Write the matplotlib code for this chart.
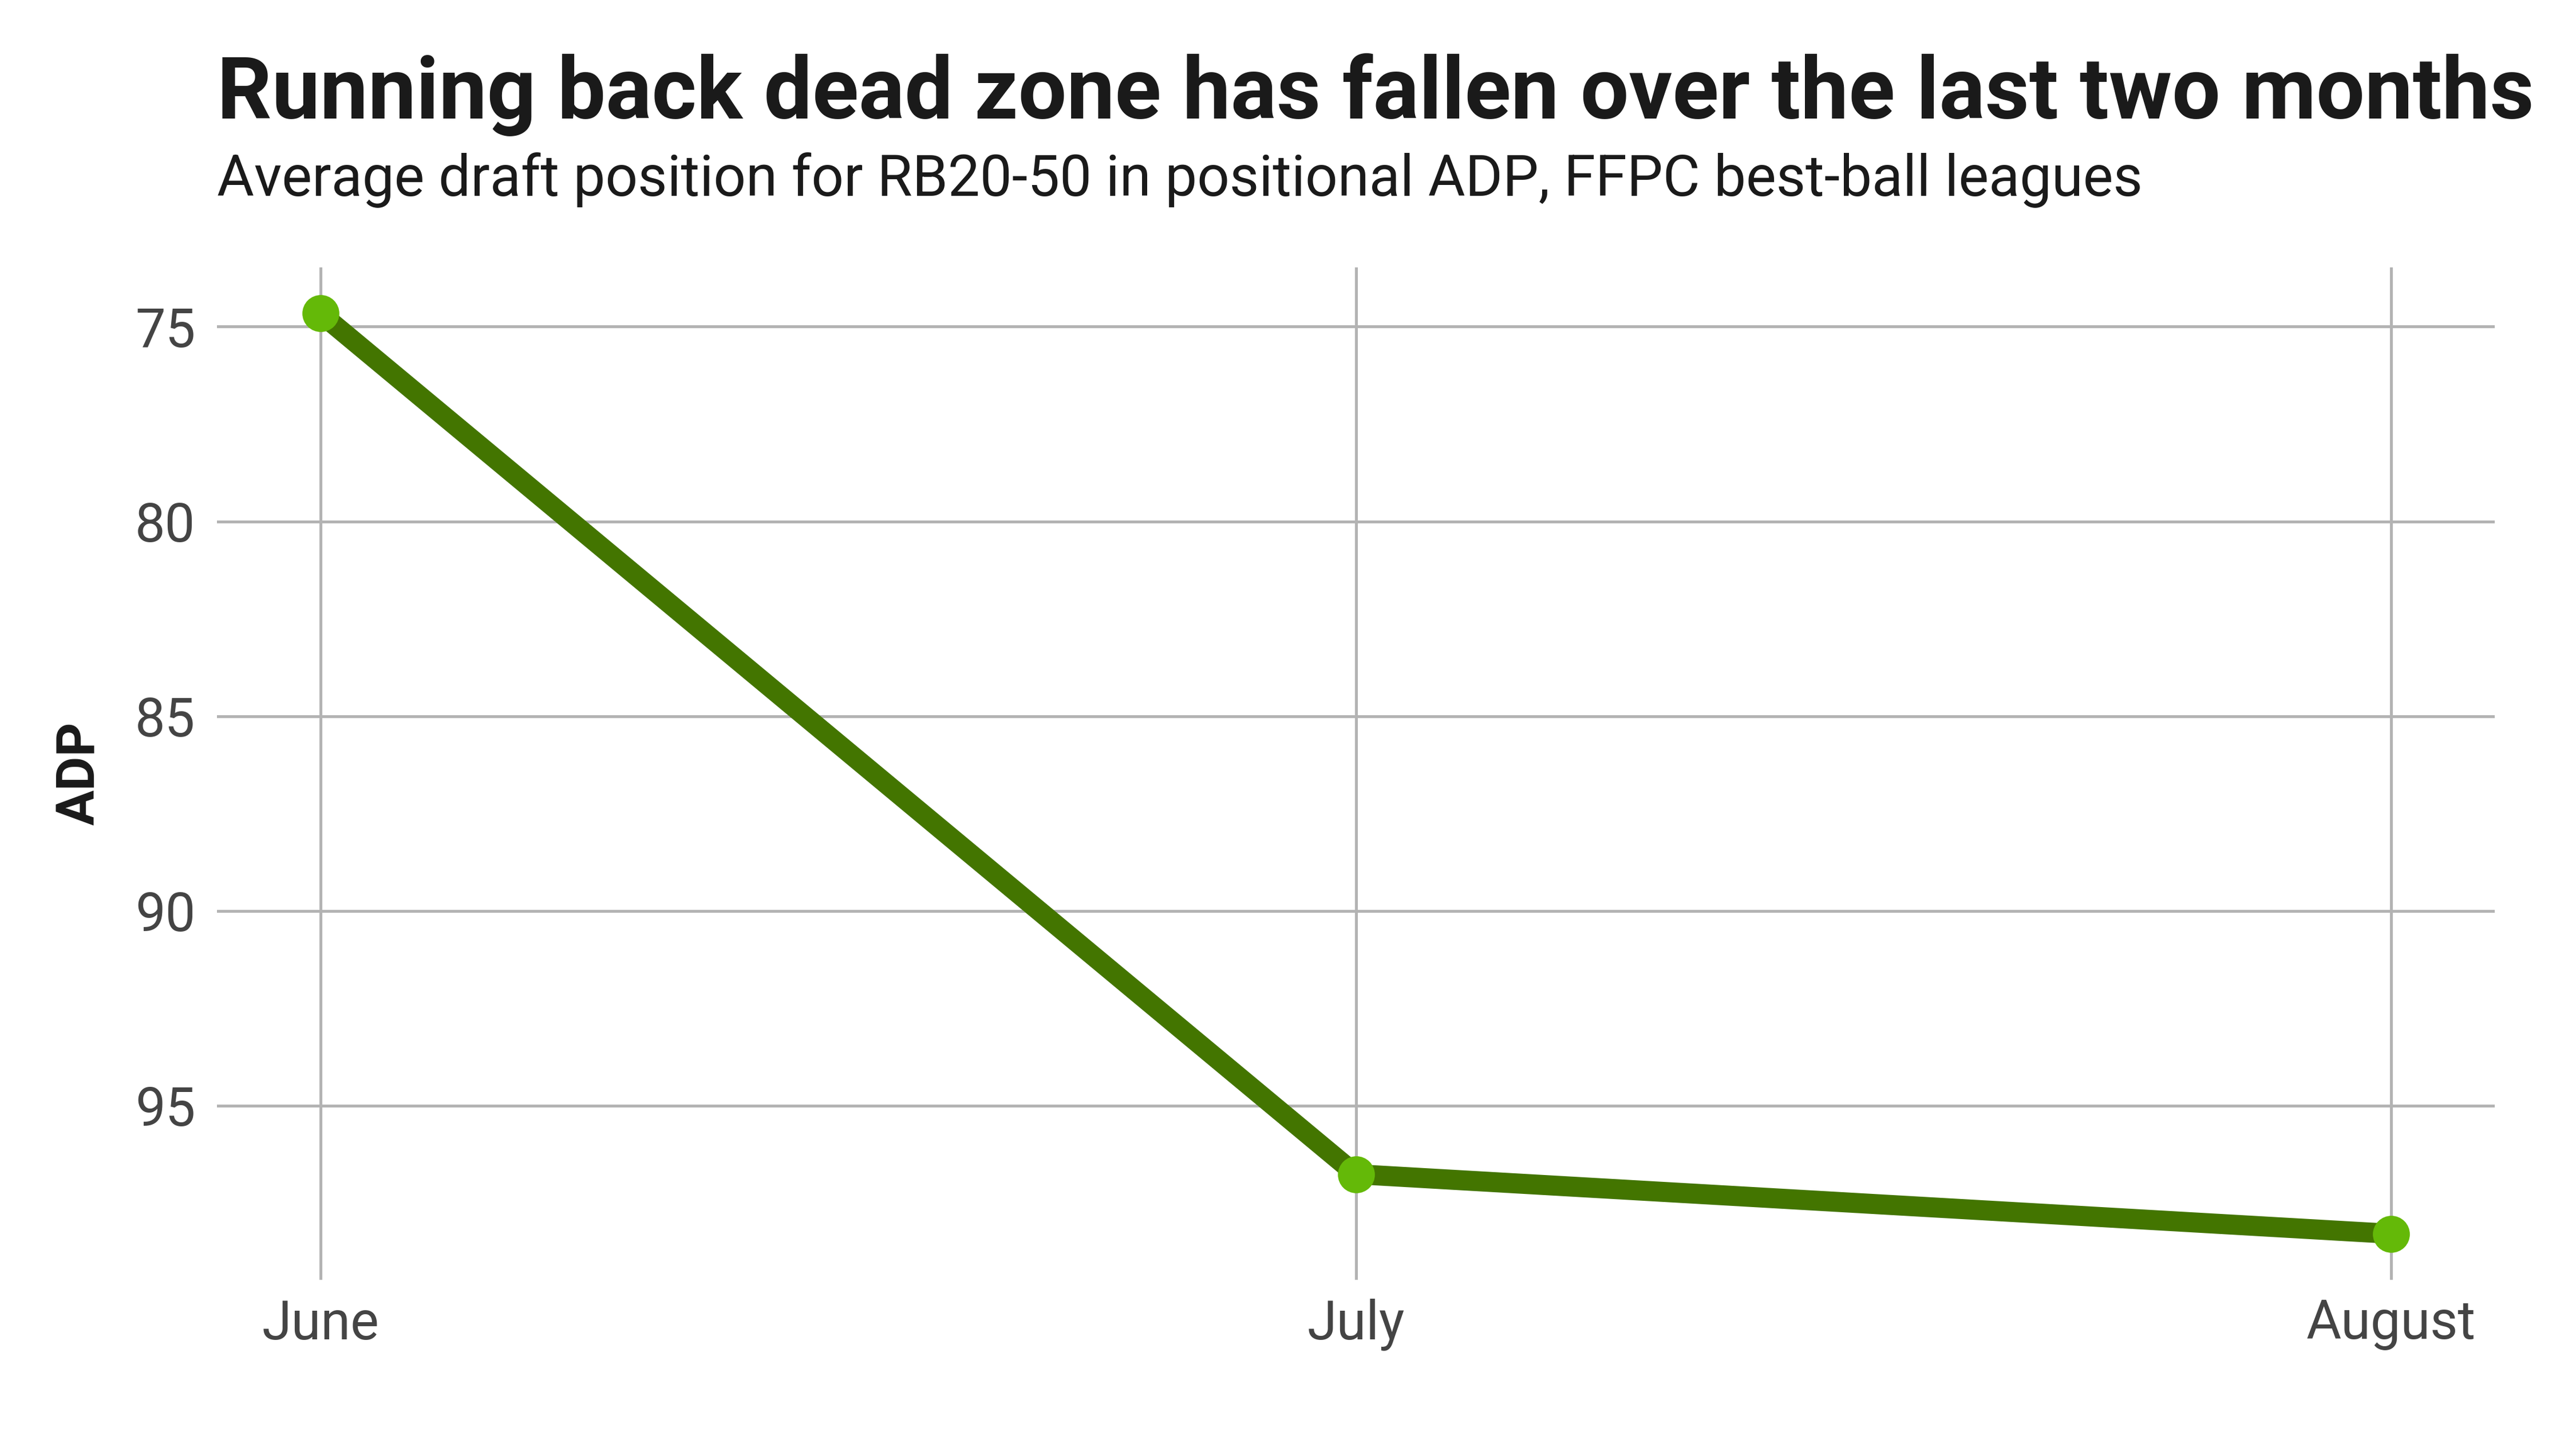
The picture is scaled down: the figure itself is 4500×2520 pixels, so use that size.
import matplotlib
matplotlib.use("Agg")
import matplotlib.pyplot as plt

months = ["June", "July", "August"]
adp = [74.66, 96.76, 98.29]
yticks = [75, 80, 85, 90, 95]

plt.rcParams['font.family'] = ['Roboto', 'DejaVu Sans']

fig = plt.figure(figsize=(15, 8.4), dpi=300)
ax = fig.add_axes([379/4500, 1-2235/2520, (4358-379)/4500, (2235-467)/2520])

x = list(range(len(months)))
ax.plot(x, adp, color="#437500", linewidth=8.4, solid_capstyle="butt", zorder=3)
ax.plot(x, adp, linestyle="none", marker="o", markersize=15.5,
        markerfacecolor="#64B908", markeredgewidth=0, zorder=4)

ax.set_xlim(-0.1, 2.1)
lo, hi = min(adp), max(adp)
pad = (hi - lo) * 0.05
ax.set_ylim(hi + pad, lo - pad)
ax.set_xticks(x)
ax.set_xticklabels(months)
ax.set_yticks(yticks)
ax.grid(True, color="#B3B3B3", linewidth=1.2)
ax.set_axisbelow(True)
for s in ax.spines.values():
    s.set_visible(False)
ax.tick_params(length=0, labelsize=22.5, labelcolor="#444444")
ax.tick_params(axis="x", pad=8)
ax.tick_params(axis="y", pad=9)
ax.set_ylabel("ADP", fontsize=22, fontweight="bold", color="#1a1a1a", labelpad=12.5)

fig.text(379/4500, 1-207/2520, "Running back dead zone has fallen over the last two months",
         fontsize=36, fontweight="bold", color="#1a1a1a", ha="left", va="baseline")
fig.text(379/4500, 1-342/2520, "Average draft position for RB20-50 in positional ADP, FFPC best-ball leagues",
         fontsize=23.9, color="#1a1a1a", ha="left", va="baseline")

fig.savefig("out.png", dpi=300, facecolor="white")
